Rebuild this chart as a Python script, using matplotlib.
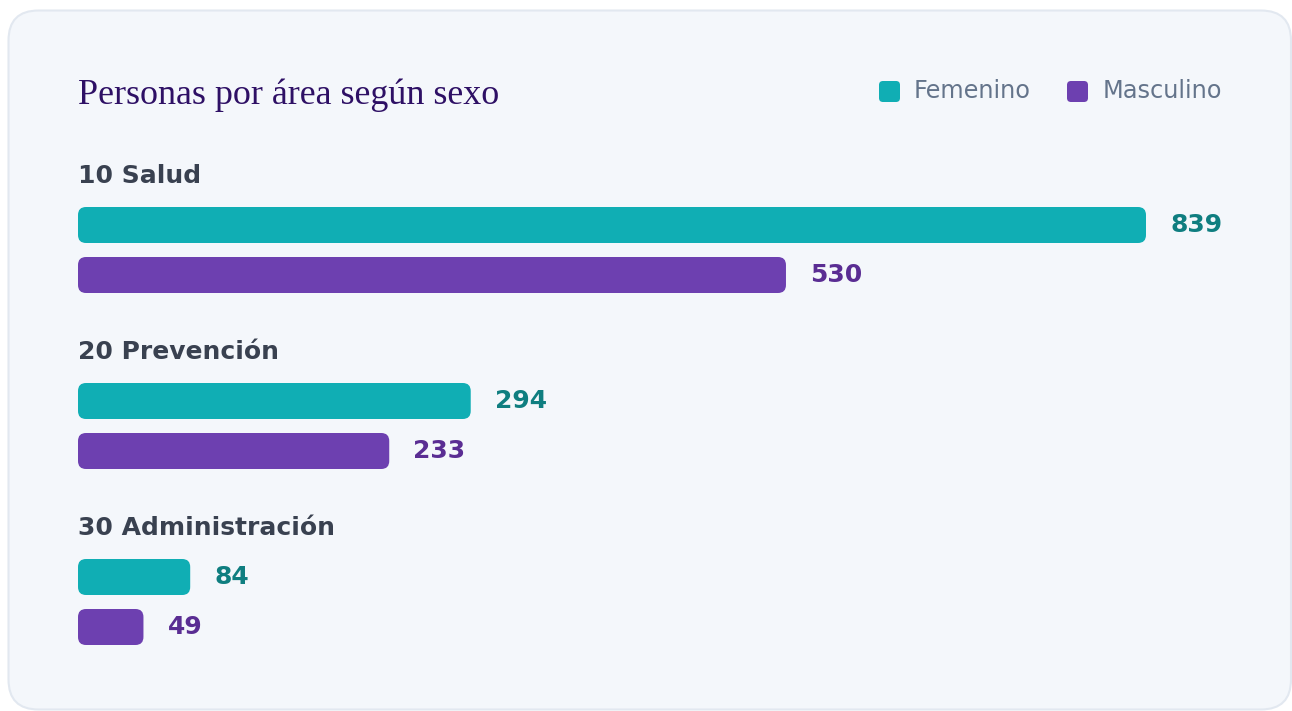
import matplotlib
matplotlib.use("Agg")
import matplotlib.pyplot as plt
from matplotlib.patches import FancyBboxPatch

# ---- data ----
categories = ["10 Salud", "20 Prevención", "30 Administración"]
series_names = ["Femenino", "Masculino"]
femenino = [839, 294, 84]
masculino = [530, 233, 49]
title = "Personas por área según sexo"

# ---- style ----
W, H = 1292, 711
DPI = 100
bar_colors = ["#10aeb4", "#6d40b0"]
label_colors = ["#0f7e80", "#5a2d93"]
card_bg = "#f4f7fb"
card_edge = "#e2e8f0"
title_color = "#2e1065"
cat_color = "#394150"
legend_text_color = "#64748b"

fig = plt.figure(figsize=(W / DPI, H / DPI), dpi=DPI)
fig.patch.set_facecolor("white")

# background axes in pixel coordinates
bg = fig.add_axes([0, 0, 1, 1])
bg.set_xlim(0, W)
bg.set_ylim(H, 0)
bg.axis("off")

card = FancyBboxPatch((8.5, 10.5), 1282.5, 699, boxstyle="round,pad=0,rounding_size=30",
                      facecolor=card_bg, edgecolor=card_edge, linewidth=1.5)
bg.add_patch(card)

bg.text(78, 104, title, fontsize=25.9, family="Liberation Serif", color=title_color,
        va="baseline", ha="left")

# legend
leg_items = [(879, 914), (1067, 1103)]
for (sx, tx), name, col in zip(leg_items, series_names, bar_colors):
    bg.add_patch(FancyBboxPatch((sx, 81), 21, 21, boxstyle="round,pad=0,rounding_size=4",
                                facecolor=col, edgecolor="none"))
    bg.text(tx, 91.5, name, fontsize=17.3, color=legend_text_color, va="center", ha="left",
            family="DejaVu Sans")

# bars axes: x in data units
left_px, right_px = 78, 1222
scale = 1.3358  # px per unit
xmax = (right_px - left_px) / scale
ax = fig.add_axes([left_px / W, 0, (right_px - left_px) / W, 1])
ax.set_xlim(0, xmax)
ax.set_ylim(H, 0)
ax.axis("off")
ax.patch.set_alpha(0)

label_gap_px = 24
label_w_px = 52
cap = xmax - (label_gap_px + label_w_px) / scale
bar_h = 36
radius_px = 8
group_step = 176

for i, cat in enumerate(categories):
    gy = 176 + group_step * i
    bg.text(78, gy, cat, fontsize=18, fontweight="bold", color=cat_color,
            va="center", ha="left", family="DejaVu Sans")
    for j, vals in enumerate([femenino, masculino]):
        v = vals[i]
        top = 207 + 50 * j + group_step * i
        length = min(v, cap)
        p = FancyBboxPatch((0, top), length, bar_h,
                           boxstyle=f"round,pad=0,rounding_size={radius_px / scale}",
                           mutation_aspect=scale, facecolor=bar_colors[j], edgecolor="none")
        ax.add_patch(p)
        ax.text(length + label_gap_px / scale, top + bar_h / 2 + 0.5, str(v), fontsize=18,
                fontweight="bold", color=label_colors[j], va="center", ha="left",
                family="DejaVu Sans")

fig.savefig("out.png", dpi=DPI, facecolor="white")
